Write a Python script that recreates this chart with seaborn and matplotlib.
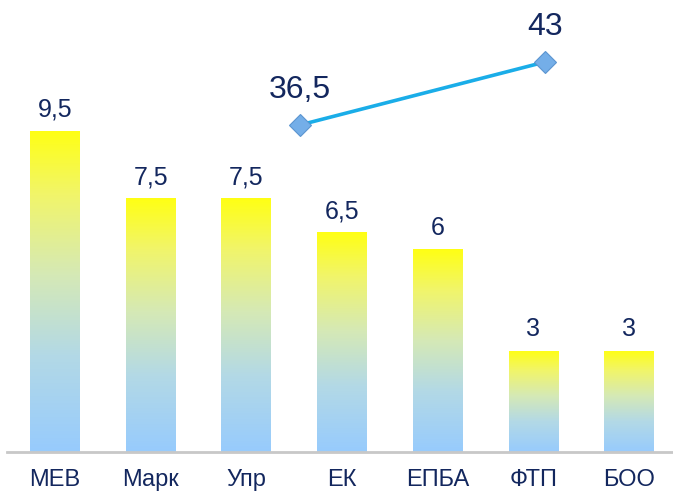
import numpy as np
import pandas as pd
import matplotlib
matplotlib.use('Agg')
import matplotlib.pyplot as plt
import seaborn as sns
from matplotlib.colors import LinearSegmentedColormap

# data
categories = ['МЕВ', 'Марк', 'Упр', 'ЕК', 'ЕПБА', 'ФТП', 'БОО']
values = [9.5, 7.5, 7.5, 6.5, 6, 3, 3]
line_values = [36.5, 43]
line_x = [2.56, 5.12]   # line sits between the categories (secondary axis)

text_color = '#13275E'

sns.set_theme(style='white')
plt.rcParams['font.family'] = ['Liberation Sans', 'DejaVu Sans']

fig = plt.figure(figsize=(6.73, 4.91), dpi=100)
ax = fig.add_axes([7 / 673, 39 / 491, 670 / 673, 452 / 491])

df = pd.DataFrame({'cat': categories, 'val': values})
sns.barplot(data=df, x='cat', y='val', ax=ax, width=0.52, color='white')

# vertical yellow -> light blue gradient inside each bar
cmap = LinearSegmentedColormap.from_list(
    'grad', [(0.0, '#97CBFD'), (0.3, '#B3D9E6'), (0.55, '#D5E9B6'),
             (0.8, '#F1F56A'), (1.0, '#FFFF14')])
grad = np.linspace(0, 1, 256).reshape(-1, 1)
for p in ax.patches:
    x0, w, h = p.get_x(), p.get_width(), p.get_height()
    p.set_facecolor('none')
    p.set_edgecolor('none')
    im = ax.imshow(grad, cmap=cmap, origin='lower', aspect='auto',
                   extent=(x0, x0 + w, 0, h), zorder=2)
    im.set_clip_path(p)
    ax.text(x0 + w / 2, h + 0.42, f'{h:g}'.replace('.', ','),
            ha='center', va='baseline', fontsize=18, color=text_color)

ax.set_xlim(-0.5, 6.5)
ax.set_ylim(0, 13.37)
ax.set_xlabel('')
ax.set_ylabel('')
ax.set_yticks([])
ax.tick_params(axis='x', length=0, pad=12.5, labelsize=17, labelcolor=text_color)
for s in ['top', 'left', 'right']:
    ax.spines[s].set_visible(False)
ax.spines['bottom'].set_color('#C8C8C8')
ax.spines['bottom'].set_linewidth(2)

# secondary axis for the line
ax2 = ax.twinx()
ax2.set_ylim(2.75, 49.4)
sns.lineplot(x=line_x, y=line_values, ax=ax2, color='#1AADE8', linewidth=2.6,
             marker='D', markersize=11, markerfacecolor='#74AEE8',
             markeredgecolor='#5B95D0', markeredgewidth=0.8)
for xv, yv in zip(line_x, line_values):
    ax2.text(xv, yv + 2.75, f'{yv:g}'.replace('.', ','), ha='center',
             va='baseline', fontsize=23, color=text_color)
ax2.set_yticks([])
for s in ax2.spines.values():
    s.set_visible(False)
ax.set_xlim(-0.5, 6.5)

fig.savefig('out.png', dpi=100)
